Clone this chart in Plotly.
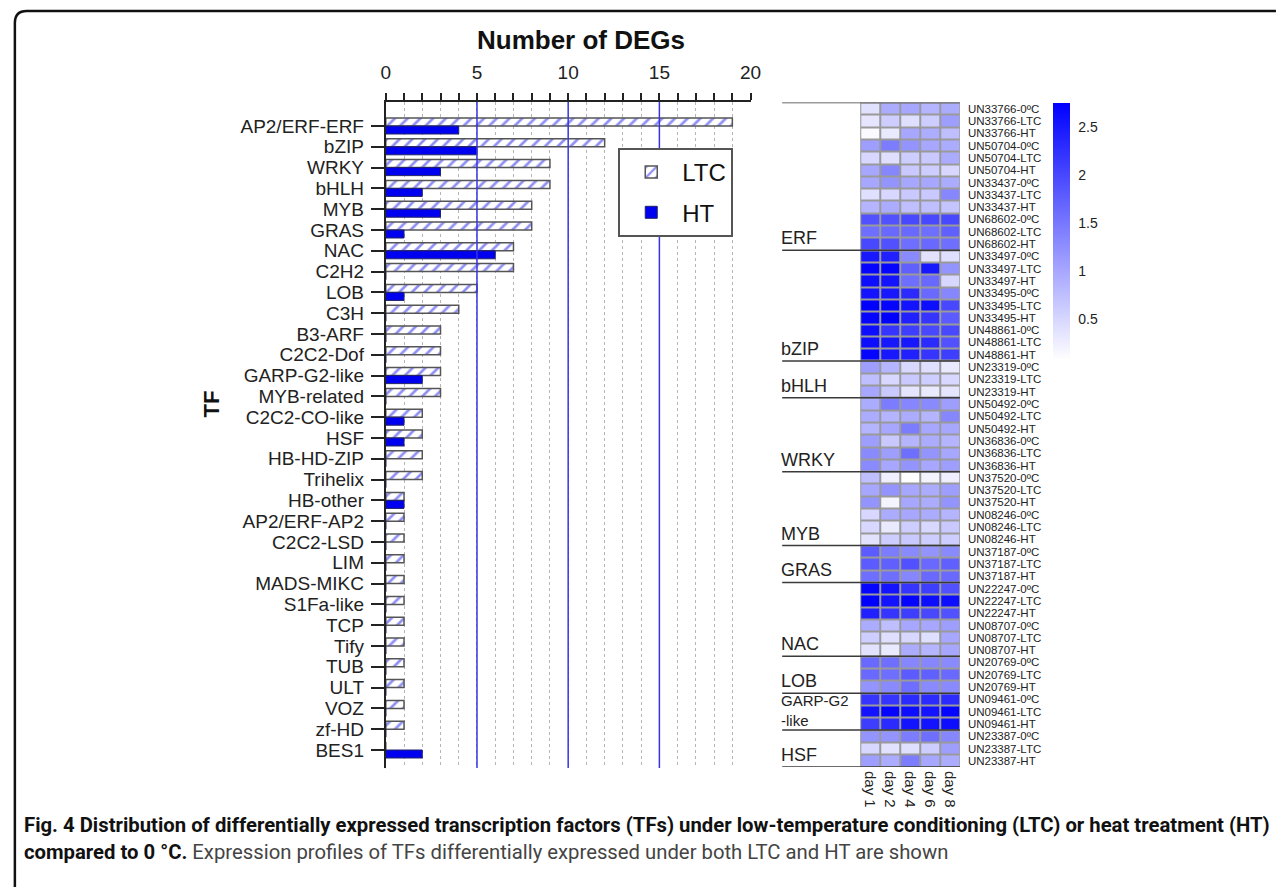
import plotly.graph_objects as go

W, H = 1282, 887

# ---------------- data ----------------
TF = ["AP2/ERF-ERF", "bZIP", "WRKY", "bHLH", "MYB", "GRAS", "NAC", "C2H2", "LOB", "C3H",
      "B3-ARF", "C2C2-Dof", "GARP-G2-like", "MYB-related", "C2C2-CO-like", "HSF", "HB-HD-ZIP",
      "Trihelix", "HB-other", "AP2/ERF-AP2", "C2C2-LSD", "LIM", "MADS-MIKC", "S1Fa-like",
      "TCP", "Tify", "TUB", "ULT", "VOZ", "zf-HD", "BES1"]
LTC = [19, 12, 9, 9, 8, 8, 7, 7, 5, 4, 3, 3, 3, 3, 2, 2, 2, 2, 1, 1, 1, 1, 1, 1, 1, 1, 1, 1, 1, 1, 0]
HT = [4, 5, 3, 2, 3, 1, 6, 0, 1, 0, 0, 0, 2, 0, 1, 1, 0, 0, 1, 0, 0, 0, 0, 0, 0, 0, 0, 0, 0, 0, 2]

DAYS = ["day 1", "day 2", "day 4", "day 6", "day 8"]
CONDITIONS = ["0ºC", "LTC", "HT"]
GROUPS = ["ERF", "bZIP", "bHLH", "WRKY", "MYB", "GRAS", "NAC", "LOB", "GARP-G2<br>-like", "HSF"]
GROUP_GENES = [
    ["33766", "50704", "33437", "68602"],
    ["33497", "33495", "48861"],
    ["23319"],
    ["50492", "36836"],
    ["37520", "08246"],
    ["37187"],
    ["22247", "08707"],
    ["20769"],
    ["09461"],
    ["23387"],
]
EXPR = [
    [0.40, 0.95, 1.00, 0.85, 0.95],  # 33766 0C
    [0.35, 0.60, 0.42, 0.60, 1.10],  # 33766 LTC
    [0.12, 0.30, 1.00, 0.94, 0.75],  # 33766 HT
    [1.10, 1.45, 1.20, 1.00, 0.95],  # 50704 0C
    [0.50, 0.42, 0.60, 0.65, 0.95],  # 50704 LTC
    [1.00, 1.35, 0.65, 0.60, 0.50],  # 50704 HT
    [1.00, 1.20, 1.00, 1.00, 0.95],  # 33437 0C
    [0.42, 0.50, 0.65, 0.65, 1.35],  # 33437 LTC
    [0.85, 0.95, 0.75, 0.75, 0.70],  # 33437 HT
    [1.90, 1.90, 2.00, 2.00, 2.00],  # 68602 0C
    [1.60, 1.65, 1.65, 1.60, 1.75],  # 68602 LTC
    [2.00, 1.90, 1.60, 1.65, 1.60],  # 68602 HT
    [2.50, 2.40, 1.30, 0.38, 0.42],  # 33497 0C
    [2.70, 2.70, 1.75, 2.50, 1.20],  # 33497 LTC
    [2.60, 2.55, 1.60, 1.65, 0.50],  # 33497 HT
    [2.55, 2.50, 2.30, 1.65, 1.35],  # 33495 0C
    [2.75, 2.70, 2.55, 2.60, 2.00],  # 33495 LTC
    [2.70, 2.75, 2.40, 2.20, 1.80],  # 33495 HT
    [2.60, 2.20, 2.10, 2.00, 2.00],  # 48861 0C
    [2.60, 2.50, 2.50, 2.30, 1.90],  # 48861 LTC
    [2.70, 2.50, 2.40, 2.20, 2.10],  # 48861 HT
    [1.10, 0.85, 0.50, 0.42, 0.30],  # 23319 0C
    [0.75, 0.50, 0.65, 0.60, 0.50],  # 23319 LTC
    [1.00, 0.65, 0.35, 0.30, 0.35],  # 23319 HT
    [0.95, 1.45, 1.35, 1.30, 1.10],  # 50492 0C
    [0.95, 0.85, 0.95, 0.85, 1.35],  # 50492 LTC
    [0.85, 1.00, 1.45, 1.00, 1.00],  # 50492 HT
    [1.10, 0.65, 0.85, 0.95, 0.85],  # 36836 0C
    [1.30, 1.10, 1.60, 1.20, 1.00],  # 36836 LTC
    [1.30, 1.00, 1.20, 1.00, 1.10],  # 36836 HT
    [0.75, 0.25, 0.05, 0.20, 0.25],  # 37520 0C
    [1.00, 1.20, 1.00, 0.95, 1.10],  # 37520 LTC
    [1.20, 0.20, 1.00, 0.95, 1.20],  # 37520 HT
    [0.50, 0.95, 1.00, 0.95, 0.85],  # 08246 0C
    [0.50, 0.30, 0.60, 0.50, 0.65],  # 08246 LTC
    [0.38, 0.60, 0.65, 0.60, 0.60],  # 08246 HT
    [1.80, 1.45, 1.30, 1.20, 1.30],  # 37187 0C
    [1.80, 1.75, 1.90, 1.65, 1.75],  # 37187 LTC
    [1.60, 1.60, 1.35, 1.65, 1.65],  # 37187 HT
    [2.70, 2.55, 2.20, 2.10, 1.90],  # 22247 0C
    [2.75, 2.55, 2.70, 2.60, 2.60],  # 22247 LTC
    [2.40, 2.20, 2.10, 2.00, 1.90],  # 22247 HT
    [0.95, 0.75, 1.00, 1.00, 1.10],  # 08707 0C
    [0.60, 0.42, 0.50, 0.42, 1.00],  # 08707 LTC
    [0.38, 0.30, 0.95, 0.85, 1.00],  # 08707 HT
    [1.65, 1.60, 1.35, 1.35, 1.30],  # 20769 0C
    [1.65, 1.60, 1.80, 1.75, 1.65],  # 20769 LTC
    [1.20, 1.30, 1.60, 1.30, 1.30],  # 20769 HT
    [2.20, 2.20, 2.30, 2.30, 2.30],  # 09461 0C
    [2.55, 2.70, 2.60, 2.55, 2.70],  # 09461 LTC
    [2.10, 2.30, 2.55, 2.55, 2.60],  # 09461 HT
    [1.20, 1.20, 1.45, 1.60, 1.35],  # 23387 0C
    [0.50, 0.38, 0.42, 0.60, 1.10],  # 23387 LTC
    [1.10, 0.95, 1.45, 1.00, 0.95],  # 23387 HT
]
CBAR_TICKS = [0.5, 1, 1.5, 2, 2.5]
X_TICKS = [0, 5, 10, 15, 20]
BLUE_GRID = [5, 10, 15]

ROW_LABELS = ["UN" + g + "-" + c for genes in GROUP_GENES for g in genes for c in CONDITIONS]

FONT = "Liberation Sans, Arial, sans-serif"
CAP_FONT = "Roboto, Liberation Sans, Arial, sans-serif"


def px_x(p):
    return p / W


def px_y(p):
    return 1 - p / H


# ---------------- figure ----------------
fig = go.Figure()

fig.add_trace(go.Bar(
    name="LTC", orientation="h", y=TF, x=LTC, legendgroup="ltc",
    marker=dict(color="white", line=dict(color="#555555", width=1.5),
                pattern=dict(shape="/", fgcolor="#1f1fe8", bgcolor="white", size=9, solidity=0.3)),
    xaxis="x", yaxis="y",
))
fig.add_trace(go.Bar(
    name="HT", orientation="h", y=TF, x=HT, legendgroup="ht",
    marker=dict(color="#0000f0", line=dict(color="#222266", width=1)),
    xaxis="x", yaxis="y",
))

fig.add_trace(go.Heatmap(
    z=EXPR, x=DAYS, y=ROW_LABELS, xaxis="x2", yaxis="y2",
    colorscale=[[0, "#ffffff"], [1, "#0000ff"]], zmin=0.08, zmax=2.75,
    xgap=2, ygap=2, showlegend=False,
    colorbar=dict(x=px_x(1061), xanchor="left", y=px_y(102.7), yanchor="top",
                  len=257, lenmode="pixels", thickness=17, thicknessmode="pixels",
                  outlinewidth=0, ticks="outside", ticklen=6, tickcolor="rgba(0,0,0,0)",
                  tickvals=CBAR_TICKS,
                  tickfont=dict(size=14, color="#222", family=FONT), xpad=0, ypad=0),
))

n_tf = len(TF)
row_px = 20.8
top_pad = 24 / row_px
bot_pad = 18 / row_px

shapes = []
annotations = []

# gray background behind heatmap (cell borders)
shapes.append(dict(type="rect", xref="x2 domain", yref="y2 domain", x0=0, x1=1, y0=0, y1=1,
                   fillcolor="#9a9a9a", line=dict(width=0), layer="below"))

# blue major grid lines
for v in BLUE_GRID:
    shapes.append(dict(type="line", xref="x", yref="y domain", x0=v, x1=v, y0=0, y1=1,
                       line=dict(color="#3535e6", width=1.5), layer="above"))
# stubs at ends of left axis
for yy in (0, 1):
    shapes.append(dict(type="line", xref="x", yref="y domain", x0=-13 / 18.47, x1=0, y0=yy, y1=yy,
                       line=dict(color="#222", width=1.5)))

# heatmap group separators + labels
boundary = 0
shapes.append(dict(type="line", xref="paper", yref="y2", x0=px_x(787), x1=px_x(967),
                   y0=-0.5, y1=-0.5, line=dict(color="#3a3a3a", width=1.5)))
for name, genes in zip(GROUPS, GROUP_GENES):
    boundary += len(genes) * len(CONDITIONS)
    yb = boundary - 0.5
    shapes.append(dict(type="line", xref="paper", yref="y2", x0=px_x(787), x1=px_x(967),
                       y0=yb, y1=yb, line=dict(color="#3a3a3a", width=1.5)))
    small = "<br>" in name
    annotations.append(dict(xref="paper", yref="y2", x=px_x(784), y=yb, xanchor="left",
                            yanchor="bottom", text=name, showarrow=False, align="left",
                            font=dict(size=15 if small else 18, color="#222", family=FONT),
                            yshift=-1 if small else 0))

# figure frame (rounded top-left corner)
r = 12
fx = lambda p: f"{p / W:.5f}"
fy = lambda p: f"{1 - p / H:.5f}"
frame = (f"M {fx(10)},{fy(H + 5)} L {fx(10)},{fy(11 + r)} "
         f"Q {fx(10)},{fy(11)} {fx(10 + r)},{fy(11)} L {fx(W + 5)},{fy(11)}")
shapes.append(dict(type="path", xref="paper", yref="paper", path=frame,
                   line=dict(color="#111", width=2.5)))

# title + TF label
annotations.append(dict(xref="paper", yref="paper", x=px_x(583), y=px_y(40),
                        xanchor="center", yanchor="middle", text="<b>Number of DEGs</b>",
                        showarrow=False, font=dict(size=26, color="#111", family=FONT)))
annotations.append(dict(xref="paper", yref="paper", x=px_x(209), y=px_y(404),
                        xanchor="center", yanchor="middle", text="<b>TF</b>",
                        textangle=-90, showarrow=False, font=dict(size=22, color="#111", family=FONT)))

# caption
annotations.append(dict(xref="paper", yref="paper", x=px_x(17), y=px_y(825), xanchor="left",
                        yanchor="middle",
                        text="<b>Fig. 4 Distribution of differentially expressed transcription factors (TFs) under low-temperature conditioning (LTC) or heat treatment (HT)</b>",
                        showarrow=False, font=dict(size=20.3, color="#111", family=CAP_FONT)))
annotations.append(dict(xref="paper", yref="paper", x=px_x(17), y=px_y(852), xanchor="left",
                        yanchor="middle",
                        text="<b>compared to 0 °C.</b><span style='color:#444'> Expression profiles of TFs differentially expressed under both LTC and HT are shown</span>",
                        showarrow=False, font=dict(size=20.3, color="#111", family=CAP_FONT)))

fig.update_layout(
    width=W, height=H, margin=dict(l=0, r=0, t=0, b=0),
    paper_bgcolor="white", plot_bgcolor="white",
    font=dict(family=FONT, color="#222"),
    barmode="group", bargap=0.23, bargroupgap=0,
    xaxis=dict(domain=[px_x(385.6), px_x(755)], range=[0, 20], side="top",
               tickvals=X_TICKS, ticks="outside", ticklen=7, tickwidth=1.5, tickcolor="#222",
               showline=True, linecolor="#222", linewidth=2, showgrid=False, zeroline=False,
               tickfont=dict(size=19, color="#222", family=FONT), ticklabelstandoff=6,
               minor=dict(dtick=1, ticks="outside", ticklen=7, tickwidth=1.5, tickcolor="#222",
                          showgrid=True, griddash="dot", gridcolor="#b5b5b5", gridwidth=1),
               fixedrange=True),
    yaxis=dict(domain=[px_y(768), px_y(102)], type="category",
               range=[n_tf - 1 + bot_pad, -top_pad], tickmode="linear", tick0=0, dtick=1,
               ticks="outside", ticklen=13, tickwidth=1.5, tickcolor="#222",
               showline=True, linecolor="#222", linewidth=2, showgrid=False, zeroline=False,
               tickfont=dict(size=19, color="#222", family=FONT), ticklabelstandoff=3),
    xaxis2=dict(domain=[px_x(866), px_x(967)], anchor="y2", side="bottom", tickangle=90,
                ticks="", showline=False, showgrid=False, zeroline=False,
                tickfont=dict(size=15, color="#222", family=FONT), ticklabelstandoff=3),
    yaxis2=dict(domain=[px_y(767), px_y(102.5)], anchor="x2", side="right", type="category",
                range=[len(ROW_LABELS) - 0.5, -0.5], tickmode="linear", tick0=0, dtick=1,
                ticks="", showline=False, showgrid=False,
                zeroline=False, tickfont=dict(size=11.5, color="#222", family=FONT),
                ticklabelstandoff=7),
    legend=dict(x=px_x(621), y=px_y(148), xanchor="left", yanchor="top",
                bordercolor="#555", borderwidth=2, bgcolor="white",
                font=dict(size=24, color="#111", family=FONT), itemwidth=52,
                tracegroupgap=6),
    shapes=shapes, annotations=annotations,
)

fig.write_html("out.html")
